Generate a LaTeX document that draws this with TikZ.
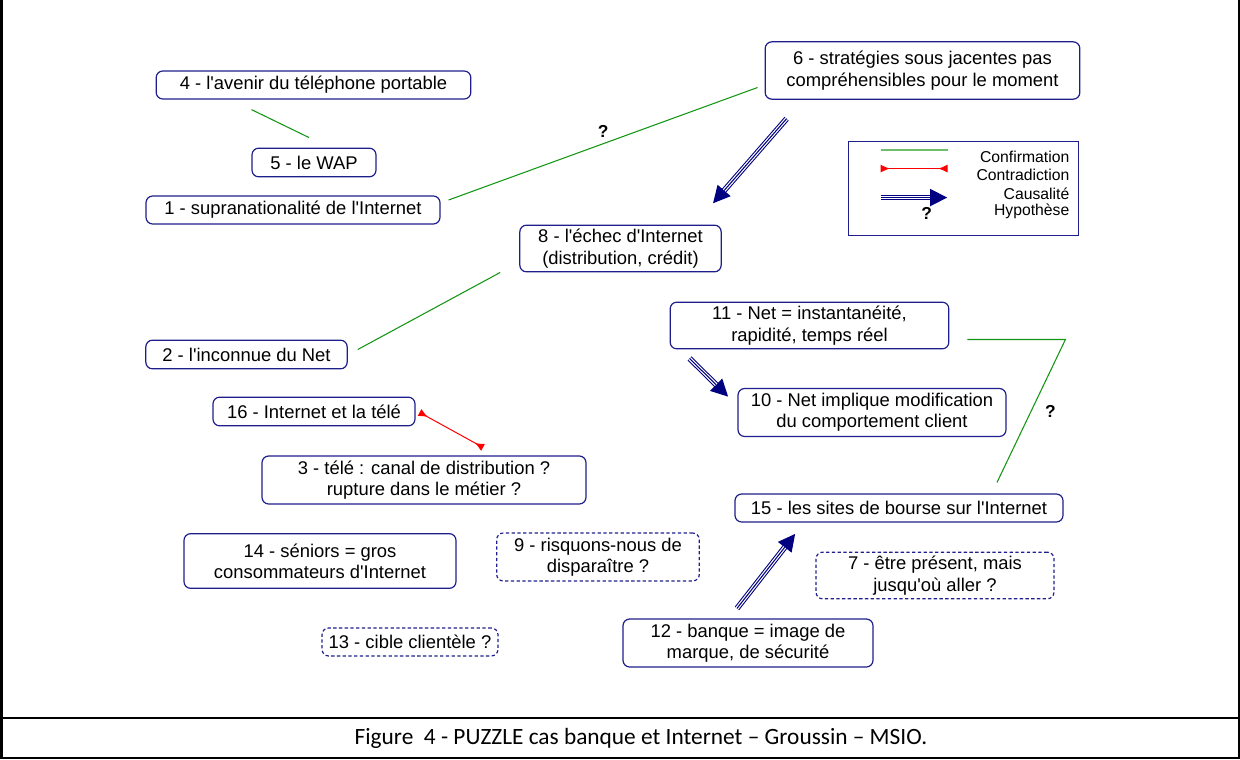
\documentclass[tikz,border=0pt]{standalone}
\usepackage{fontspec}
\setmainfont{Liberation Sans}[Ligatures=TeXOff]
\newfontfamily\capfont{Carlito}
\usetikzlibrary{arrows.meta}

\definecolor{boxblue}{RGB}{30,30,140}
\definecolor{confgreen}{RGB}{20,150,20}
\definecolor{legendgreen}{RGB}{110,190,110}
\definecolor{causenavy}{RGB}{0,0,128}

\tikzset{
  idea/.style={draw=boxblue, line width=0.9pt, rounded corners=5pt, align=center, inner sep=0pt, font=\fontsize{13.8}{16}\selectfont},
  doubt/.style={idea, dash pattern=on 2.5pt off 1.8pt},
  confirm/.style={draw=confgreen, line width=0.8pt},
  contra/.style={draw=red, line width=0.75pt, {Latex[reversed,length=7pt,width=6pt]}-{Latex[reversed,length=7pt,width=6pt]}},
  causal/.style={preaction={draw=causenavy, line width=4.2pt, shorten >=0pt, -{Triangle[length=13pt,width=12pt]}},
    draw=white, line width=2.6pt, shorten >=13pt, postaction={draw=causenavy, line width=0.8pt}},
  hypo/.style={font=\bfseries\fontsize{13}{15}\selectfont, inner sep=1pt},
  legtext/.style={font=\fontsize{11.8}{13}\selectfont, anchor=east, inner sep=0pt}
}

\begin{document}
\begin{tikzpicture}[x=0.75pt, y=-0.75pt]
            \useasboundingbox (0,0) rectangle (1240,760);

            % Frame and caption
            \draw[line width=1.5pt] (1.5,0) -- (1.5,757.5) -- (1238.5,757.5) -- (1238.5,0);
            \draw[line width=1.5pt] (1.5,718) -- (1238.5,718);
            \node[font=\capfont\fontsize{17.5}{20}\selectfont] (caption) at (641,738) {Figure\ \ 4 - PUZZLE cas banque et Internet – Groussin – MSIO.};

            % Ideas
            \node[idea, minimum width=236pt, minimum height=21pt] (n4) at (313.5,85) {4 - l'avenir du téléphone portable};
            \node[idea, minimum width=93pt, minimum height=21.5pt] (n5) at (314,162.5) {5 - le WAP};
            \node[idea, minimum width=220.5pt, minimum height=21pt] (n1) at (293,210) {1 - supranationalité de l'Internet};
            \node[idea, minimum width=236pt, minimum height=43pt] (n6) at (922.5,70.5) {6 - stratégies sous jacentes pas\\compréhensibles pour le moment};
            \node[idea, minimum width=151pt, minimum height=35pt] (n8) at (620.5,248.5) {8 - l'échec d'Internet\\(distribution, crédit)};
            \node[idea, minimum width=151pt, minimum height=21.5pt] (n2) at (246.5,354.5) {2 - l'inconnue du Net};
            \node[idea, minimum width=209pt, minimum height=35pt] (n11) at (809.5,325.5) {11 - Net = instantanéité,\\rapidité, temps réel};
            \node[idea, minimum width=151.5pt, minimum height=21.5pt] (n16) at (314,411.5) {16 - Internet et la télé};
            \node[idea, minimum width=201pt, minimum height=36pt] (n10) at (872,412.5) {10 - Net implique modification\\du comportement client};
            \node[idea, minimum width=243pt, minimum height=36pt] (n3) at (424,480) {3 - télé : canal de distribution ?\\rupture dans le métier ?};
            \node[idea, minimum width=246pt, minimum height=21pt] (n15) at (899,508) {15 - les sites de bourse sur l'Internet};
            \node[idea, minimum width=204pt, minimum height=41pt] (n14) at (320,561) {14 - séniors = gros\\consommateurs d'Internet};
            \node[doubt, minimum width=152pt, minimum height=36pt] (n9) at (598,557) {9 - risquons-nous de\\disparaître ?};
            \node[doubt, minimum width=178.5pt, minimum height=35pt] (n7) at (935,575.5) {7 - être présent, mais\\jusqu'où aller ?};
            \node[doubt, minimum width=132pt, minimum height=21pt] (n13) at (410,642) {13 - cible clientèle ?};
            \node[idea, minimum width=187.5pt, minimum height=36pt] (n12) at (748,643) {12 - banque = image de\\marque, de sécurité};

            % Links
            \draw[confirm] ([shift={(-62,10)}]n4.south) -- ([shift={(-5,-10)}]n5.north);
            \draw[confirm] ([shift={(8,-10)}]n1.east) -- node[hypo, above=3pt] (q16) {?} ([shift={(-7,17)}]n6.west);
            \draw[confirm] ([shift={(10,-5)}]n2.east) -- ([shift={(-19,0)}]n8.south west);
            \draw[confirm] ([shift={(18,14)}]n11.east) -- ++(98,0) -- node[hypo, right=9pt] (q1115) {?} ([shift={(98,-11)}]n15.north);
            \draw[contra] ([shift={(4,1)}]n16.east) -- ([shift={(59,-8)}]n3.north);
            \draw[causal] ([shift={(22,19)}]n6.south west) -- ([shift={(-9,-21)}]n8.north east);
            \draw[causal] ([shift={(20,9)}]n11.south west) -- ([shift={(-9,9)}]n10.north west);
            \draw[causal] ([shift={(-11,-10)}]n12.north) -- ([shift={(61,11)}]n15.south west);

            % Legend
            \node[draw=boxblue, line width=0.9pt, minimum width=173pt, minimum height=71pt] (legend) at (963.5,188.5) {};
            \draw[draw=legendgreen, line width=1.5pt] ([shift={(33,9)}]legend.north west) -- ++(67,0);
            \draw[contra] ([shift={(33,28)}]legend.north west) -- ++(67,0);
            \draw[causal] ([shift={(33,57)}]legend.north west) -- ++(67,0);
            \node[hypo] (qlegend) at ([shift={(79,73)}]legend.north west) {?};
            \foreach \txt/\dy in {Confirmation/16, Contradiction/34, Causalité/53, Hypothèse/71}
            \node[legtext] at ([shift={(222,\dy)}]legend.north west) {\txt};

        \end{tikzpicture}
\end{document}
